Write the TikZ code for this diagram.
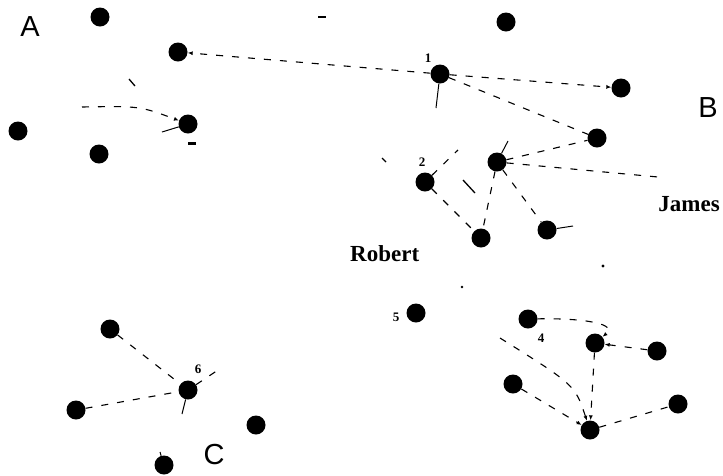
\documentclass[tikz,border=0pt]{standalone}
\usepackage{fontspec}
\setmainfont{Liberation Serif}
\newfontfamily\grpfont{Liberation Sans}
\usetikzlibrary{arrows.meta}
\begin{document}
\begin{tikzpicture}[x=1pt,y=-1pt,
  person/.style={circle,fill=black,inner sep=0pt,minimum size=19pt},
  tie/.style={dash pattern=on 7pt off 9pt,line width=1.1pt},
  tiearrow/.style={tie,-{Latex[length=5pt,width=4pt]}},
  stub/.style={line width=1pt},
  speck/.style={line width=1.3pt},
  grp/.style={font=\grpfont\fontsize{29}{29}\selectfont,inner sep=0pt},
  who/.style={font=\fontsize{23}{23}\selectfont\bfseries,inner sep=0pt},
  num/.style={font=\fontsize{13}{13}\selectfont\bfseries,inner sep=0pt}
]
\useasboundingbox[fill=white] (0,0) rectangle (723,475);

% group labels
\node[grp] (lA) at (30,27) {A};
\node[grp] (lB) at (708,108) {B};
\node[grp] (lC) at (214,455) {C};

% names
\node[who,anchor=west] (robert) at (350,254) {Robert};
\node[who,anchor=east] (james) at (720,204) {James};

% group A
\node[person] (a1) at (100,17) {};
\node[person] (a2) at (178,52) {};
\node[person] (a3) at (188,124) {};
\node[person] (a4) at (18,131) {};
\node[person] (a5) at (99,154) {};

% group B
\node[person] (b0) at (506,22) {};
\node[person] (n1) at (440,74) {};
\node[person] (b1) at (621,88) {};
\node[person] (b2) at (597,138) {};
\node[person] (b3) at (497,162) {};
\node[person] (n2) at (425,182) {};
\node[person] (b4) at (547,230) {};
\node[person] (b5) at (481,238) {};

% lower right
\node[person] (n5) at (416,313) {};
\node[person] (n4) at (528,319) {};
\node[person] (n7) at (595,343) {};
\node[person] (r1) at (657,351) {};
\node[person] (r2) at (513,384) {};
\node[person] (r3) at (678,404) {};
\node[person] (n3) at (590,430) {};

% group C
\node[person] (c1) at (110,329) {};
\node[person] (c2) at (188,390) {};
\node[person] (c3) at (76,410) {};
\node[person] (c4) at (256,425) {};
\node[person] (c5) at (164,465) {};

% numbers
\node[num] (l1) at (428,58) {1};
\node[num] (l2) at (422,162) {2};
\node[num] (l5) at (396,317) {5};
\node[num] (l4) at (541,338) {4};
\node[num] (l6) at (198,369) {6};

% free ends of the short strokes
\coordinate (n1s) at (436,108);
\coordinate (aw) at (82,107);
\coordinate (as) at (162,132);
\coordinate (bj) at (658,177);
\coordinate (n2s) at (458,150);
\coordinate (b3u) at (508,141);
\coordinate (b4r) at (573,226);
\coordinate (rw) at (500,338);
\coordinate (c2u) at (221,368);
\coordinate (c2d) at (182,414);
\coordinate (c5u) at (160,452);

% ties, group A and B
\draw[tiearrow] (n1) -- (a2);
\draw[tiearrow] (n1) -- (b1);
\draw[tie] (n1) -- (b2);
\draw[stub] (n1) -- (n1s);
\draw[tiearrow] (aw) .. controls (140,106) .. (a3);
\draw[stub] (a3) -- (as);
\draw[tie] (b3) -- (b2);
\draw[tie] (b3) -- (bj);
\draw[tie] (b3) -- (b4);
\draw[tie] (b3) -- (b5);
\draw[tie] (n2) -- (b5);
\draw[tie] (n2) -- (n2s);
\draw[stub] (b3) -- (b3u);
\draw[stub] (b4) -- (b4r);

% ties, lower right
\draw[tiearrow] (n4) .. controls (585,318) and (618,324) .. (n7);
\draw[tiearrow] (r1) -- (n7);
\draw[tiearrow] (n7) -- (n3);
\draw[tie] (n3) -- (r3);
\draw[tiearrow] (r2) -- (n3);
\draw[tiearrow] (rw) .. controls (575,385) .. (n3);

% ties, group C
\draw[tie] (c1) -- (c2);
\draw[tie] (c3) -- (c2);
\draw[tie] (c2) -- (c2u);
\draw[stub] (c2) -- (c2d);
\draw[stub] (c5) -- (c5u);

% loose marks
\draw[speck] (129,79) -- (135,86);
\draw[line width=3pt] (188,143) -- (196,143);
\draw[speck] (318,17) -- (326,17);
\draw[speck] (382,158) -- (386,162);
\draw[speck] (463,180) -- (475,193);
\fill (603,266) circle (1.6pt);
\fill (462,287) circle (1.4pt);
\end{tikzpicture}
\end{document}
